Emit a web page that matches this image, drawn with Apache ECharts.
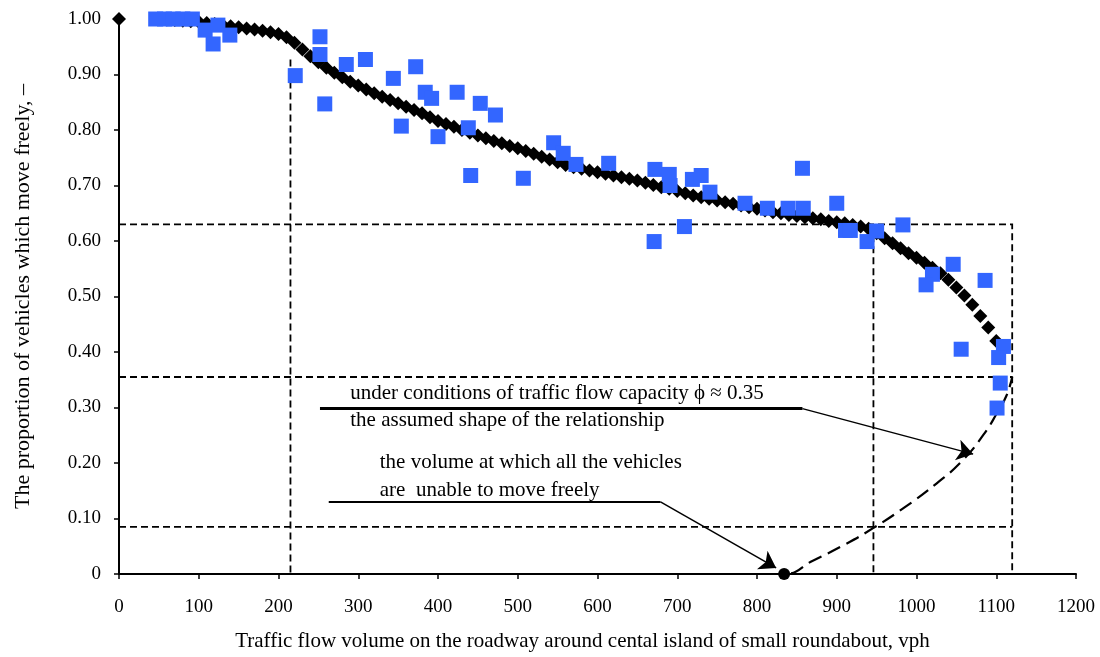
<!DOCTYPE html>
<html><head><meta charset="utf-8">
<script src="https://cdn.jsdelivr.net/npm/echarts/dist/echarts.min.js"></script>
<style>html,body{margin:0;padding:0;background:#fff}#c{width:1100px;height:657px}</style>
</head><body><div id="c"></div>
<script>
// ---- data ----
const xAxisName = 'Traffic flow volume on the roadway around cental island of small roundabout, vph';
const yAxisName = 'The proportion of vehicles which move freely, –';

const modelX = [0,50,60,70,80,90,100,110,120,130,140,150,160,170,180,190,200,210,220,230,240,250,260,270,280,290,300,310,320,330,340,350,360,370,380,390,400,410,420,430,440,450,460,470,480,490,500,510,520,530,540,550,560,570,580,590,600,610,620,630,640,650,660,670,680,690,700,710,720,730,740,750,760,770,780,790,800,810,820,830,840,850,860,870,880,890,900,910,920,930,940,950,960,970,980,990,1000,1010,1020,1030,1040,1050,1060,1070,1080,1090,1100];
const modelY = [1.000,1.000,0.999,0.998,0.997,0.996,0.995,0.993,0.991,0.989,0.987,0.985,0.983,0.981,0.979,0.976,0.973,0.967,0.957,0.945,0.933,0.922,0.912,0.903,0.895,0.887,0.880,0.873,0.866,0.860,0.854,0.848,0.842,0.836,0.830,0.823,0.816,0.811,0.806,0.800,0.795,0.790,0.785,0.780,0.776,0.771,0.767,0.762,0.757,0.752,0.747,0.742,0.737,0.733,0.730,0.727,0.724,0.721,0.718,0.715,0.712,0.709,0.705,0.701,0.697,0.694,0.690,0.686,0.682,0.679,0.676,0.673,0.670,0.667,0.664,0.661,0.658,0.655,0.652,0.650,0.647,0.645,0.643,0.641,0.639,0.636,0.634,0.632,0.629,0.626,0.622,0.614,0.605,0.596,0.587,0.578,0.570,0.561,0.552,0.542,0.530,0.516,0.502,0.485,0.465,0.444,0.420];

const obsX = [46,57,68,80,92,108,124,139,118,221,252,252,258,285,309,344,372,384,392,354,400,424,453,472,438,441,507,545,557,573,614,672,690,691,719,730,741,709,671,785,813,839,858,857,900,911,917,938,950,983,1046,1020,1012,1086,1056,1109,1103,1105,1101];
const obsY = [1.00,1.00,1.00,1.00,1.00,0.980,0.989,0.971,0.955,0.898,0.968,0.936,0.847,0.918,0.927,0.893,0.914,0.868,0.857,0.807,0.788,0.868,0.848,0.827,0.804,0.718,0.713,0.777,0.758,0.738,0.740,0.729,0.720,0.700,0.711,0.718,0.688,0.626,0.599,0.668,0.659,0.659,0.659,0.731,0.668,0.619,0.619,0.599,0.618,0.629,0.558,0.540,0.521,0.529,0.405,0.410,0.390,0.344,0.299];

// assumed shape (long dashes)
const assumedX = [0,834,870,910,946,985,1025,1058,1084,1101,1113,1120];
const assumedY = [0,0,0.024,0.053,0.083,0.120,0.163,0.205,0.251,0.290,0.322,0.355];

// reference guide lines (dashed)
const guideLines = [
  [[0,0.63],[1120,0.63],[1120,0]],
  [[215,0.927],[215,0]],
  [[0,0.355],[1120,0.355]],
  [[0,0.085],[1120,0.085]],
  [[946,0.63],[946,0]]
];
const zeroPoint = [[834,0]];

// annotations
const note1 = ['under conditions of traffic flow capacity ϕ ≈ 0.35', 'the assumed shape of the relationship'];
const note2 = ['the volume at which all the vehicles', 'are  unable to move freely'];
const note1Under = [[252,0.298],[857,0.298]];
const note1Arrow = [[857,0.298],[1071,0.216]];
const note2Under = [[263,0.130],[679,0.130]];
const note2Arrow = [[679,0.130],[824,0.011]];
const noteAnchors = [[290,0.325],[290,0.277],[327,0.2015],[327,0.151]];

const xTicks = {min:0, max:1200, step:100};
const yTicks = {min:0, max:1, step:0.1};

// ---- chart ----
const FONT = 'Liberation Serif';
const chart = echarts.init(document.getElementById('c'));
const zip = (a,b)=>a.map((v,i)=>[v,b[i]]);

chart.setOption({
  animation:false,
  backgroundColor:'#fff',
  grid:{left:119, right:24, top:19, bottom:79.5, containLabel:false},
  xAxis:{type:'value', min:xTicks.min, max:xTicks.max, interval:xTicks.step,
    name:xAxisName, nameLocation:'middle', nameGap:57,
    nameTextStyle:{fontFamily:FONT, fontSize:21, color:'#000', padding:[0,30,0,0]},
    axisLine:{lineStyle:{color:'#000', width:2}},
    axisTick:{length:5, lineStyle:{color:'#000', width:1.5}},
    axisLabel:{fontFamily:FONT, fontSize:19, color:'#000', margin:24,
      formatter:v=>String(v)},
    splitLine:{show:false}},
  yAxis:{type:'value', min:yTicks.min, max:yTicks.max, interval:yTicks.step,
    name:yAxisName, nameLocation:'middle', nameGap:85,
    nameTextStyle:{fontFamily:FONT, fontSize:22, color:'#000'},
    axisLine:{show:true, lineStyle:{color:'#000', width:2}},
    axisTick:{show:true, length:5, lineStyle:{color:'#000', width:1.5}},
    axisLabel:{fontFamily:FONT, fontSize:19, color:'#000', margin:18,
      formatter:v=> v===0 ? '0' : v.toFixed(2)},
    splitLine:{show:false}},
  series:[
    {type:'lines', coordinateSystem:'cartesian2d', polyline:true, silent:true, z:1,
      lineStyle:{color:'#000', width:1.8, type:[7,4], opacity:1},
      data:guideLines.map(c=>({coords:c}))},
    {type:'line', data:zip(assumedX,assumedY), smooth:0.5, showSymbol:false, z:2,
      lineStyle:{color:'#000', width:2.2, type:[14,7]}},
    {type:'scatter', data:zip(modelX,modelY), symbol:'diamond', symbolSize:14, z:3,
      itemStyle:{color:'#000', opacity:1}},
    {type:'scatter', data:zip(obsX,obsY), symbol:'rect', symbolSize:15, z:4,
      itemStyle:{color:'#3366ff', opacity:1}},
    {type:'scatter', data:zeroPoint, symbol:'circle', symbolSize:12, z:5,
      itemStyle:{color:'#000', opacity:1}},
    {type:'lines', coordinateSystem:'cartesian2d', silent:true, z:6,
      lineStyle:{color:'#000', width:3, opacity:1},
      data:[{coords:note1Under}]},
    {type:'lines', coordinateSystem:'cartesian2d', silent:true, z:6,
      lineStyle:{color:'#000', width:2, opacity:1},
      data:[{coords:note2Under}]},
    {type:'lines', coordinateSystem:'cartesian2d', silent:true, z:6,
      symbol:['none','arrow'], symbolSize:16,
      lineStyle:{color:'#000', width:1.5, opacity:1},
      data:[{coords:note1Arrow},{coords:note2Arrow}]}
  ]
});

const texts = note1.concat(note2);
chart.setOption({graphic: texts.map((t,i)=>{
  const p = chart.convertToPixel({gridIndex:0}, noteAnchors[i]);
  return {type:'text', x:p[0], y:p[1], z:10,
    style:{text:t, font:'21px "Liberation Serif"', fill:'#000', verticalAlign:'middle'}};
})});
</script></body></html>
